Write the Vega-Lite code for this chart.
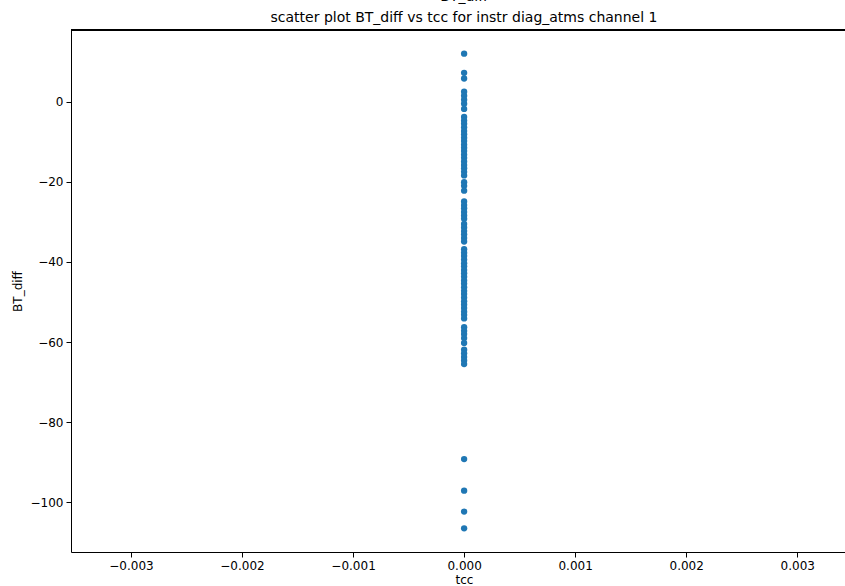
{
  "$schema": "https://vega.github.io/schema/vega-lite/v6.json",
  "autosize": "none",
  "width": 774,
  "height": 522,
  "padding": {"left": 71, "top": 30, "right": 0, "bottom": 34},
  "background": "white",
  "title": {
    "text": ["BT_diff", "scatter plot BT_diff vs tcc for instr diag_atms channel 1"],
    "font": "DejaVu Sans",
    "fontSize": 14,
    "fontWeight": "normal",
    "color": "black",
    "lineHeight": 21,
    "offset": 5,
    "anchor": "middle",
    "dx": 6
  },
  "config": {
    "view": {"stroke": null},
    "axis": {
      "domainColor": "black",
      "domainWidth": 1,
      "tickColor": "black",
      "tickSize": 5,
      "tickWidth": 1,
      "labelFont": "DejaVu Sans",
      "labelFontSize": 12,
      "labelColor": "black",
      "labelPadding": 3,
      "labelFlush": false,
      "titleFont": "DejaVu Sans",
      "titleFontSize": 12,
      "titleFontWeight": "normal",
      "titleColor": "black",
      "grid": false
    }
  },
  "data": {
    "values": [
      {"tcc": 0, "BT_diff": 12.0},
      {"tcc": 0, "BT_diff": 7.2},
      {"tcc": 0, "BT_diff": 5.8},
      {"tcc": 0, "BT_diff": 2.5},
      {"tcc": 0, "BT_diff": 1.5},
      {"tcc": 0, "BT_diff": 0.5},
      {"tcc": 0, "BT_diff": -0.5},
      {"tcc": 0, "BT_diff": -1.8},
      {"tcc": 0, "BT_diff": -3.8},
      {"tcc": 0, "BT_diff": -4.7},
      {"tcc": 0, "BT_diff": -5.5},
      {"tcc": 0, "BT_diff": -6.4},
      {"tcc": 0, "BT_diff": -7.3},
      {"tcc": 0, "BT_diff": -8.1},
      {"tcc": 0, "BT_diff": -9.0},
      {"tcc": 0, "BT_diff": -9.8},
      {"tcc": 0, "BT_diff": -10.7},
      {"tcc": 0, "BT_diff": -11.5},
      {"tcc": 0, "BT_diff": -12.3},
      {"tcc": 0, "BT_diff": -13.2},
      {"tcc": 0, "BT_diff": -14.0},
      {"tcc": 0, "BT_diff": -14.9},
      {"tcc": 0, "BT_diff": -15.8},
      {"tcc": 0, "BT_diff": -16.6},
      {"tcc": 0, "BT_diff": -17.5},
      {"tcc": 0, "BT_diff": -18.4},
      {"tcc": 0, "BT_diff": -20.1},
      {"tcc": 0, "BT_diff": -21.0},
      {"tcc": 0, "BT_diff": -22.2},
      {"tcc": 0, "BT_diff": -24.9},
      {"tcc": 0, "BT_diff": -25.8},
      {"tcc": 0, "BT_diff": -26.6},
      {"tcc": 0, "BT_diff": -27.5},
      {"tcc": 0, "BT_diff": -28.4},
      {"tcc": 0, "BT_diff": -29.2},
      {"tcc": 0, "BT_diff": -30.5},
      {"tcc": 0, "BT_diff": -31.4},
      {"tcc": 0, "BT_diff": -32.3},
      {"tcc": 0, "BT_diff": -33.1},
      {"tcc": 0, "BT_diff": -34.0},
      {"tcc": 0, "BT_diff": -34.9},
      {"tcc": 0, "BT_diff": -36.8},
      {"tcc": 0, "BT_diff": -37.7},
      {"tcc": 0, "BT_diff": -38.5},
      {"tcc": 0, "BT_diff": -39.4},
      {"tcc": 0, "BT_diff": -40.3},
      {"tcc": 0, "BT_diff": -41.1},
      {"tcc": 0, "BT_diff": -42.0},
      {"tcc": 0, "BT_diff": -42.8},
      {"tcc": 0, "BT_diff": -43.7},
      {"tcc": 0, "BT_diff": -44.6},
      {"tcc": 0, "BT_diff": -45.4},
      {"tcc": 0, "BT_diff": -46.3},
      {"tcc": 0, "BT_diff": -47.2},
      {"tcc": 0, "BT_diff": -48.0},
      {"tcc": 0, "BT_diff": -48.9},
      {"tcc": 0, "BT_diff": -49.8},
      {"tcc": 0, "BT_diff": -50.6},
      {"tcc": 0, "BT_diff": -51.5},
      {"tcc": 0, "BT_diff": -52.4},
      {"tcc": 0, "BT_diff": -53.2},
      {"tcc": 0, "BT_diff": -54.1},
      {"tcc": 0, "BT_diff": -56.3},
      {"tcc": 0, "BT_diff": -57.2},
      {"tcc": 0, "BT_diff": -58.0},
      {"tcc": 0, "BT_diff": -59.0},
      {"tcc": 0, "BT_diff": -60.2},
      {"tcc": 0, "BT_diff": -61.9},
      {"tcc": 0, "BT_diff": -62.8},
      {"tcc": 0, "BT_diff": -63.7},
      {"tcc": 0, "BT_diff": -64.6},
      {"tcc": 0, "BT_diff": -65.5},
      {"tcc": 0, "BT_diff": -89.2},
      {"tcc": 0, "BT_diff": -97.1},
      {"tcc": 0, "BT_diff": -102.3},
      {"tcc": 0, "BT_diff": -106.5}
    ]
  },
  "layer": [
    {
      "mark": {"type": "point", "shape": "circle", "filled": true, "size": 40, "opacity": 1, "color": "#1f77b4"},
      "encoding": {
        "x": {
          "field": "tcc",
          "type": "quantitative",
          "scale": {"domain": [-0.00354, 0.00343], "nice": false, "zero": false},
          "axis": {
            "orient": "bottom",
            "values": [-0.003, -0.002, -0.001, 0, 0.001, 0.002, 0.003],
            "format": ".3f",
            "title": "tcc",
            "titleX": 393,
            "titlePadding": 3
          }
        },
        "y": {
          "field": "BT_diff",
          "type": "quantitative",
          "scale": {"domain": [-112.4, 17.9], "nice": false, "zero": false},
          "axis": {
            "values": [-100, -80, -60, -40, -20, 0],
            "format": "d",
            "title": "BT_diff",
            "titlePadding": 6
          }
        }
      }
    },
    {
      "mark": {"type": "rule", "color": "black", "strokeWidth": 1},
      "encoding": {
        "y": {"datum": 17.9, "type": "quantitative"}
      }
    }
  ]
}
